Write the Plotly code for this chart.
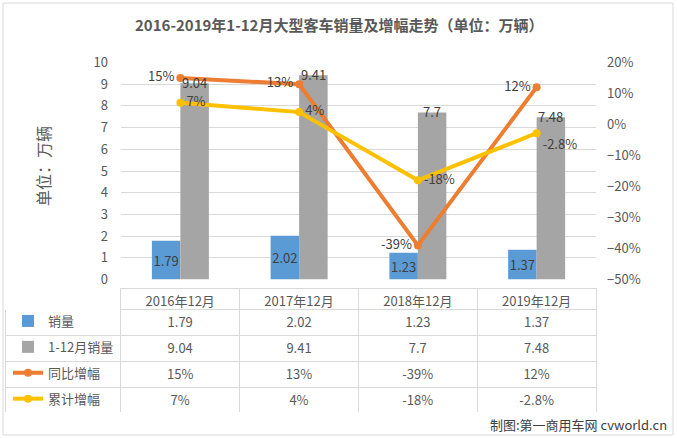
import plotly.graph_objects as go

categories = ["2016年12月", "2017年12月", "2018年12月", "2019年12月"]
monthly_sales = [1.79, 2.02, 1.23, 1.37]
ytd_sales = [9.04, 9.41, 7.7, 7.48]
yoy_growth = [0.15, 0.13, -0.39, 0.12]
ytd_growth = [0.07, 0.04, -0.18, -0.028]
series_names = ["销量", "1-12月销量", "同比增幅", "累计增幅"]
title_text = "2016-2019年1-12月大型客车销量及增幅走势（单位：万辆）"

W, H = 677, 438
FONT = "Noto Sans CJK SC"
BLUE, GREY, ORANGE, YELLOW = "#5b9bd5", "#a5a5a5", "#ed7d31", "#ffc000"
TXT = "#595959"
LBL = "#404040"

def px_x(p):
    return p / W

def px_y(p):
    return (H - p) / H

def pct(v):
    return f"{v * 100:g}%"

fig = go.Figure()

fig.add_trace(go.Bar(
    x=categories, y=monthly_sales, name=series_names[0], marker_color=BLUE,
    text=[f"{v:g}" for v in monthly_sales], textposition="inside", textangle=0,
    insidetextanchor="middle", constraintext="none",
    textfont=dict(family=FONT, size=13, color=LBL), legendgroup="a",
))
fig.add_trace(go.Bar(
    x=categories, y=ytd_sales, name=series_names[1], marker_color=GREY,
    legendgroup="b",
))
fig.add_trace(go.Scatter(
    x=categories, y=yoy_growth, name=series_names[2], yaxis="y2",
    mode="lines+markers+text", line=dict(color=ORANGE, width=4),
    marker=dict(size=8, color=ORANGE),
    text=[pct(v) for v in yoy_growth], textposition="middle left",
    textfont=dict(family=FONT, size=13, color=LBL), legendgroup="c",
))
fig.add_trace(go.Scatter(
    x=categories, y=ytd_growth, name=series_names[3], yaxis="y2",
    mode="lines+markers+text", line=dict(color=YELLOW, width=4),
    marker=dict(size=8, color=YELLOW),
    text=[pct(v) for v in ytd_growth],
    textposition=["middle right", "middle right", "middle right", "bottom right"],
    textfont=dict(family=FONT, size=13, color=LBL), legendgroup="d",
))

# data table
fig.add_trace(go.Table(
    domain=dict(x=[px_x(5), px_x(596)], y=[px_y(412), px_y(288)]),
    columnwidth=[116, 119, 119, 119, 119],
    header=dict(
        values=[""] + categories, height=21,
        line=dict(color=["white"] + ["#d9d9d9"] * 4, width=1),
        fill=dict(color="white"),
        font=dict(family=FONT, size=13, color=TXT), align="center",
    ),
    cells=dict(
        values=[["", "", "", ""]] + [
            [f"{monthly_sales[i]:g}", f"{ytd_sales[i]:g}", pct(yoy_growth[i]), pct(ytd_growth[i])]
            for i in range(len(categories))
        ],
        height=26, line=dict(color="#d9d9d9", width=1), fill=dict(color="white"),
        font=dict(family=FONT, size=13, color=TXT), align="center",
    ),
))

annotations = [
    dict(text=f"{v:g}", x=c, y=v, xref="x", yref="y", xshift=14, yshift=1, showarrow=False,
         yanchor="middle", font=dict(family=FONT, size=13, color=LBL))
    for c, v in zip(categories, ytd_sales)
]
annotations += [
    dict(text=f"<b>{title_text}</b>", x=0.5, y=px_y(25), xref="paper", yref="paper",
         yanchor="middle", showarrow=False, font=dict(family=FONT, size=15, color=TXT)),
    dict(text="单位：万辆", x=px_x(43), y=px_y(166), xref="paper", yref="paper",
         xanchor="center", yanchor="middle", textangle=-90, showarrow=False,
         font=dict(family=FONT, size=16, color=TXT)),
    dict(text="制图:第一商用车网 cvworld.cn", x=px_x(669), y=px_y(424), xref="paper",
         yref="paper", xanchor="right", yanchor="middle", showarrow=False,
         font=dict(family=FONT, size=13, color=LBL)),
]

fig.update_layout(
    template="none",
    width=W, height=H, margin=dict(l=0, r=0, t=0, b=0, pad=0, autoexpand=False),
    paper_bgcolor="white", plot_bgcolor="white",
    barmode="group", bargap=0.52, bargroupgap=0,
    font=dict(family=FONT, size=13, color=TXT),
    xaxis=dict(domain=[px_x(121), px_x(596)], showticklabels=False, showgrid=False,
               zeroline=False, showline=False, type="category", automargin=False, ticks=""),
    yaxis=dict(domain=[px_y(279.5), px_y(62.5)], range=[0, 10], dtick=1,
               showgrid=True, gridcolor="#d9d9d9", gridwidth=1, zeroline=False,
               showline=False, ticks="", automargin=False,
               tickfont=dict(family=FONT, size=13, color=TXT), ticklabelstandoff=12),
    yaxis2=dict(overlaying="y", side="right", range=[-0.5, 0.2], dtick=0.1,
                tickformat=".0%", showgrid=False, zeroline=False, showline=False,
                ticks="", automargin=False,
                tickfont=dict(family=FONT, size=13, color=TXT), ticklabelstandoff=10),
    showlegend=True,
    legend=dict(x=px_x(8), y=px_y(306), xanchor="left", yanchor="top",
                traceorder="grouped", tracegroupgap=6, bgcolor="rgba(0,0,0,0)",
                borderwidth=0, font=dict(family=FONT, size=13, color=TXT), itemwidth=30),
    annotations=annotations,
    shapes=[dict(type="rect", xref="paper", yref="paper", x0=px_x(3), x1=px_x(673),
                 y0=px_y(435), y1=px_y(3), line=dict(color="#d9d9d9", width=1))],
)

fig.write_html("out.html", config={"displayModeBar": False},
               post_script="document.body.style.margin='0px';")
